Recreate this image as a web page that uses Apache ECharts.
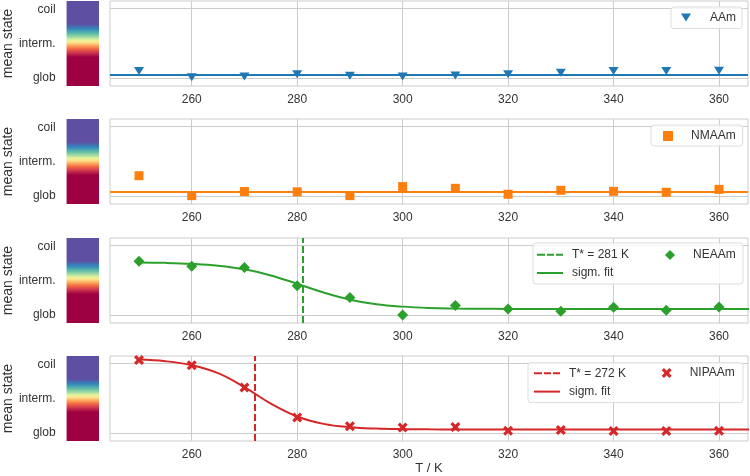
<!DOCTYPE html>
<html>
<head>
<meta charset="utf-8">
<script src="https://cdn.jsdelivr.net/npm/echarts@6/dist/echarts.min.js"></script>
<style>
html,body{margin:0;padding:0;background:#fff;}
#chart{width:750px;height:476px;}
</style>
</head>
<body>
<div id="chart"></div>
<script>
// ---- data ----
const T = [250, 260, 270, 280, 290, 300, 310, 320, 330, 340, 350, 360];
const X_TICKS = [260, 280, 300, 320, 340, 360];
const STATE_TICKS = [0, 1, 2];
const STATE_LABELS = ['glob', 'interm.', 'coil'];
const GRID_TICKS = [0, 1];

const AAM = [0.104, 0.016, 0.028, 0.057, 0.037, 0.028, 0.04, 0.06, 0.08, 0.104, 0.104, 0.108];
const AAM_LEVEL = 0.051;

const NMAAM = [0.296, 0.01, 0.069, 0.065, 0.01, 0.14, 0.115, 0.03, 0.087, 0.072, 0.058, 0.10];
const NMAAM_LEVEL = 0.071;

const NEAAM = [0.778, 0.706, 0.687, 0.424, 0.255, 0.006, 0.14, 0.092, 0.058, 0.115, 0.072, 0.121];
const FIT_T = [250, 255, 260, 265, 270, 275, 280, 285, 290, 295, 300, 305, 310, 315, 320, 325, 330, 335, 340, 345, 350, 355, 360, 365, 370];
const NEAAM_FIT = [0.759, 0.753, 0.739, 0.712, 0.660, 0.573, 0.453, 0.327, 0.225, 0.160, 0.125, 0.106, 0.098, 0.094, 0.092, 0.091, 0.091, 0.091, 0.091, 0.091, 0.091, 0.091, 0.091, 0.091, 0.091];
const NEAAM_TSTAR = 281;

const NIPAAM = [1.053, 0.976, 0.659, 0.228, 0.10, 0.085, 0.09, 0.037, 0.047, 0.033, 0.033, 0.037];
const NIPAAM_FIT = [1.058, 1.035, 0.978, 0.864, 0.663, 0.426, 0.241, 0.136, 0.088, 0.068, 0.060, 0.057, 0.056, 0.055, 0.055, 0.055, 0.055, 0.055, 0.055, 0.055, 0.055, 0.055, 0.055, 0.055, 0.055];
const NIPAAM_TSTAR = 272;

// ---- styling / layout ----
const FONT = 'Liberation Sans, Arial, sans-serif';
const TXT = '#333333';
const GRIDC = '#cccccc';
const C = { blue: '#1f77b4', orange: '#ff7f0e', green: '#2ca02c', red: '#d62728' };
const TOPS = [1, 119, 238, 356];
const H = 85;
const X_MIN = 244.5, X_MAX = 365.5;
const Y_MIN = -0.11, Y_MAX = 1.11;
const CB_MIN = -0.25, CB_MAX = 2.25;

const CMAP = [
  [0.00, '#5e4fa2'], [0.27, '#5e4fa2'], [0.33, '#3288bd'], [0.39, '#66c2a5'],
  [0.43, '#abdda4'], [0.46, '#e6f598'], [0.49, '#fee08b'], [0.52, '#fdae61'],
  [0.56, '#f46d43'], [0.60, '#d53e4f'], [0.66, '#9e0142'], [1.00, '#9e0142']
];

const XSHAPE = 'path://M-1,-0.55 L-0.55,-1 L0,-0.45 L0.55,-1 L1,-0.55 L0.45,0 L1,0.55 L0.55,1 L0,0.45 L-0.55,1 L-1,0.55 L-0.45,0 Z';
const ICON_TRI_DOWN = 'path://M0,0 L10,0 L5,8 Z';
const ICON_SQUARE = 'path://M0,0 h10 v10 h-10 Z';
const ICON_DIAMOND = 'path://M5,0 L10,5 L5,10 L0,5 Z';
const ICON_DASH = 'path://M0,0 h8 v2 h-8 Z M10,0 h7 v2 h-7 Z M19,0 h7 v2 h-7 Z';
const ICON_SOLID = 'path://M0,0 h26 v2 h-26 Z';

const pair = (xs, ys) => xs.map((x, i) => [x, ys[i]]);

const grid = [], xAxis = [], yAxis = [], series = [];
for (let i = 0; i < 4; i++) {
  grid.push({ left: 110, right: 2, top: TOPS[i], height: H, show: true, borderColor: GRIDC, borderWidth: 1, containLabel: false });
  xAxis.push({
    type: 'value', gridIndex: i, min: X_MIN, max: X_MAX,
    axisLine: { show: false },
    axisTick: { show: false, customValues: X_TICKS },
    axisLabel: { customValues: X_TICKS, margin: 8, fontSize: 12, color: TXT, fontFamily: FONT },
    splitLine: { show: true, lineStyle: { color: GRIDC, width: 1 } },
    name: i === 3 ? 'T / K' : '', nameLocation: 'middle', nameGap: 20,
    nameTextStyle: { fontSize: 13, color: TXT, fontFamily: FONT }
  });
  yAxis.push({
    type: 'value', gridIndex: i, min: Y_MIN, max: Y_MAX,
    axisLine: { show: false },
    axisTick: { show: false, customValues: GRID_TICKS },
    axisLabel: { show: false },
    splitLine: { show: true, lineStyle: { color: GRIDC, width: 1 } }
  });
}
for (let i = 0; i < 4; i++) {
  grid.push({ left: 65, width: 34, top: TOPS[i], height: H });
  xAxis.push({ type: 'value', gridIndex: 4 + i, min: 0, max: 1, show: false });
  yAxis.push({
    type: 'value', gridIndex: 4 + i, min: CB_MIN, max: CB_MAX,
    axisLine: { show: false },
    axisTick: { show: false, customValues: STATE_TICKS },
    axisLabel: { customValues: STATE_TICKS, formatter: v => STATE_LABELS[Math.round(v)], margin: 11, fontSize: 12, color: TXT, fontFamily: FONT },
    splitLine: { show: false },
    name: 'mean state', nameLocation: 'middle', nameGap: 50, nameRotate: 90,
    nameTextStyle: { fontSize: 14, color: TXT, fontFamily: FONT }
  });
  series.push({
    type: 'custom', xAxisIndex: 4 + i, yAxisIndex: 4 + i, silent: true,
    data: [[0, CB_MIN, 1, CB_MAX]],
    renderItem: (params, api) => {
      const p0 = api.coord([api.value(0), api.value(3)]);
      const p1 = api.coord([api.value(2), api.value(1)]);
      return {
        type: 'rect',
        shape: { x: p0[0], y: p0[1], width: p1[0] - p0[0], height: p1[1] - p0[1] },
        style: { fill: new echarts.graphic.LinearGradient(0, 0, 0, 1, CMAP.map(s => ({ offset: s[0], color: s[1] }))) }
      };
    }
  });
}

const levelLine = (color, level) => ({
  silent: true, symbol: ['none', 'none'], label: { show: false },
  lineStyle: { color: color, width: 2, type: 'solid' },
  emphasis: { disabled: true },
  data: [{ yAxis: level }]
});
const vLine = (color, x) => ({
  silent: true, symbol: ['none', 'none'], label: { show: false },
  lineStyle: { color: color, width: 2, type: [7, 3] },
  emphasis: { disabled: true },
  data: [{ xAxis: x }]
});

const TS3 = 'T* = ' + NEAAM_TSTAR + ' K';
const TS4 = 'T* = ' + NIPAAM_TSTAR + ' K';

// Panel 1
series.push({ name: 'AAm', type: 'scatter', xAxisIndex: 0, yAxisIndex: 0, data: pair(T, AAM),
  symbol: 'triangle', symbolRotate: 180, symbolSize: [10, 8], itemStyle: { color: C.blue, opacity: 1 }, z: 3,
  markLine: levelLine(C.blue, AAM_LEVEL) });
// Panel 2
series.push({ name: 'NMAAm', type: 'scatter', xAxisIndex: 1, yAxisIndex: 1, data: pair(T, NMAAM),
  symbol: 'rect', symbolSize: 9, itemStyle: { color: C.orange, opacity: 1 }, z: 3,
  markLine: levelLine(C.orange, NMAAM_LEVEL) });
// Panel 3
series.push({ name: TS3, type: 'line', xAxisIndex: 2, yAxisIndex: 2, data: [],
  symbol: 'none', lineStyle: { color: C.green, width: 2, type: [7, 3] }, itemStyle: { color: C.green },
  markLine: vLine(C.green, NEAAM_TSTAR) });
series.push({ name: 'NEAAm fit', type: 'line', xAxisIndex: 2, yAxisIndex: 2, data: pair(FIT_T, NEAAM_FIT),
  symbol: 'none', smooth: 0.4, lineStyle: { color: C.green, width: 2 }, itemStyle: { color: C.green } });
series.push({ name: 'NEAAm', type: 'scatter', xAxisIndex: 2, yAxisIndex: 2, data: pair(T, NEAAM),
  symbol: 'diamond', symbolSize: 11, itemStyle: { color: C.green, opacity: 1 }, z: 3 });
// Panel 4
series.push({ name: TS4, type: 'line', xAxisIndex: 3, yAxisIndex: 3, data: [],
  symbol: 'none', lineStyle: { color: C.red, width: 2, type: [7, 3] }, itemStyle: { color: C.red },
  markLine: vLine(C.red, NIPAAM_TSTAR) });
series.push({ name: 'NIPAAm fit', type: 'line', xAxisIndex: 3, yAxisIndex: 3, data: pair(FIT_T, NIPAAM_FIT),
  symbol: 'none', smooth: 0.4, lineStyle: { color: C.red, width: 2 }, itemStyle: { color: C.red } });
series.push({ name: 'NIPAAm', type: 'scatter', xAxisIndex: 3, yAxisIndex: 3, data: pair(T, NIPAAM),
  symbol: XSHAPE, symbolSize: 10, itemStyle: { color: C.red, opacity: 1 }, z: 3 });

const tStyle = pad => ({ fontSize: 12, lineHeight: 14, color: TXT, fontFamily: FONT, padding: [0, 0, 0, pad] });
const legendBase = {
  selectedMode: false, itemHeight: 10, itemWidth: 10, symbolKeepAspect: true,
  formatter: n => (/ fit$/.test(n) ? 'sigm. fit' : n)
};
const boxStyle = { backgroundColor: 'rgba(255,255,255,0.8)', borderColor: '#dddddd', borderWidth: 1, borderRadius: 3 };
const item = (name, icon, color) => ({ name, icon, itemStyle: { color: color, opacity: 1 } });
const legend = [
  Object.assign({}, legendBase, boxStyle, { left: 671, top: 7, padding: [3.5, 6, 4, 10],
    data: [item('AAm', ICON_TRI_DOWN, C.blue)], textStyle: tStyle(14) }),
  Object.assign({}, legendBase, boxStyle, { left: 651, top: 125, padding: [4, 7, 3, 12],
    data: [item('NMAAm', ICON_SQUARE, C.orange)], textStyle: tStyle(13) }),
  Object.assign({}, legendBase, boxStyle, { left: 533, top: 243, orient: 'vertical', itemWidth: 26, itemGap: 4.3,
    data: [item(TS3, ICON_DASH, C.green), item('NEAAm fit', ICON_SOLID, C.green)],
    padding: [4.7, 114, 4, 4], textStyle: tStyle(4) }),
  Object.assign({}, legendBase, { left: 665, top: 248, padding: 0, z: 6,
    data: [item('NEAAm', ICON_DIAMOND, C.green)], textStyle: tStyle(13) }),
  Object.assign({}, legendBase, boxStyle, { left: 528, top: 362.7, orient: 'vertical', itemWidth: 26, itemGap: 4.3,
    data: [item(TS4, ICON_DASH, C.red), item('NIPAAm fit', ICON_SOLID, C.red)],
    padding: [3.6, 117, 4, 6], textStyle: tStyle(4) }),
  Object.assign({}, legendBase, { left: 661.7, top: 366, padding: 0, z: 6,
    data: [item('NIPAAm', XSHAPE, C.red)], textStyle: tStyle(13) })
];

const chart = echarts.init(document.getElementById('chart'), null, { renderer: 'canvas' });
chart.setOption({
  animation: false,
  backgroundColor: '#ffffff',
  textStyle: { fontFamily: FONT },
  grid, xAxis, yAxis, legend, series
});
</script>
</body>
</html>
